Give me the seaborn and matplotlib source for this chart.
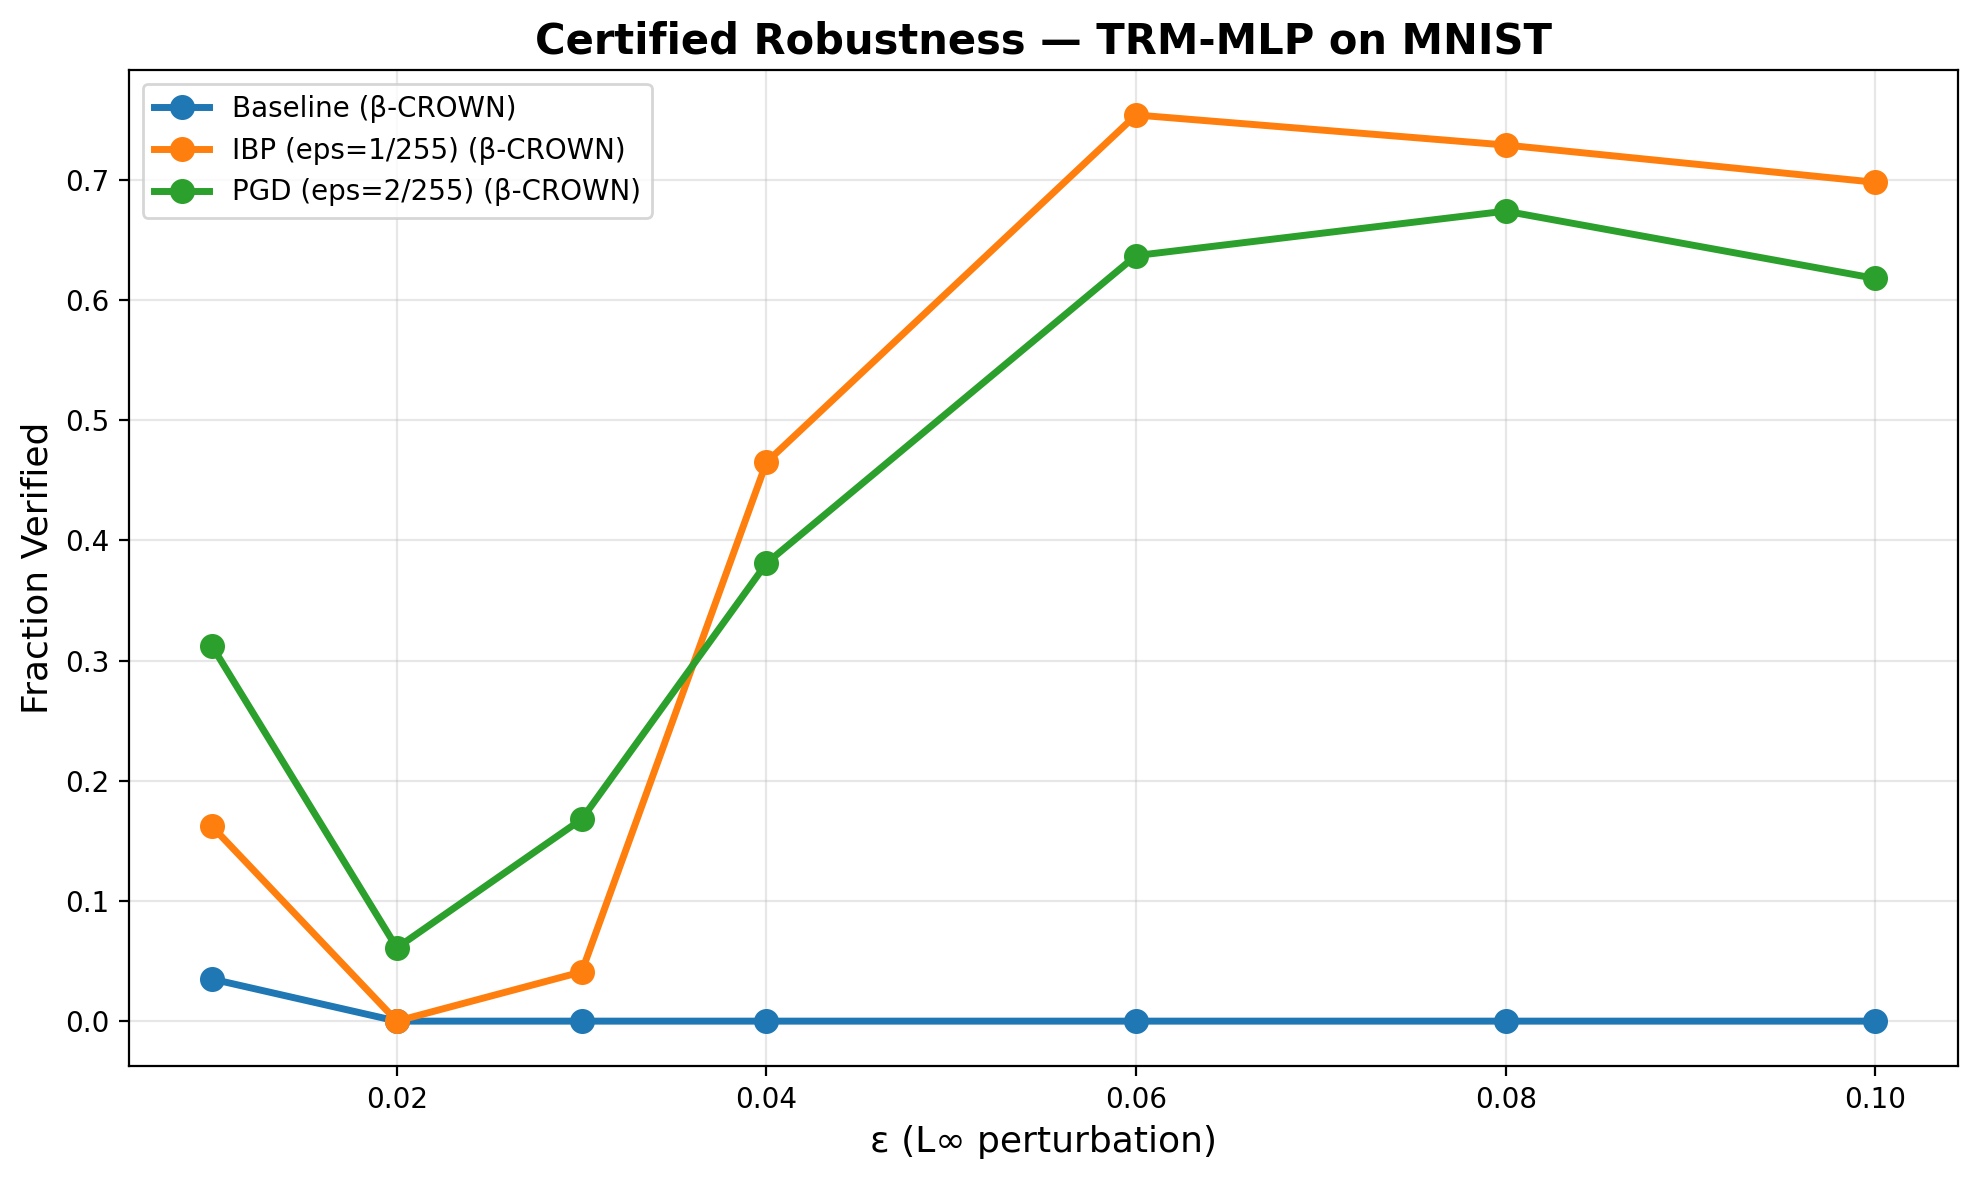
import numpy as np
import pandas as pd
import matplotlib
matplotlib.use("Agg")
import matplotlib.pyplot as plt
import seaborn as sns

# epsilon values (L-inf)
eps = [0.01, 0.02, 0.03, 0.04, 0.06, 0.08, 0.10]

# fraction verified per model
baseline = [0.035, 0.0, 0.0, 0.0, 0.0, 0.0, 0.0]
ibp = [0.162, 0.0, 0.041, 0.465, 0.754, 0.729, 0.698]
pgd = [0.312, 0.061, 0.168, 0.381, 0.637, 0.674, 0.618]

labels = ["Baseline (β-CROWN)", "IBP (eps=1/255) (β-CROWN)", "PGD (eps=2/255) (β-CROWN)"]
colors = ["#1f77b4", "#ff7f0e", "#2ca02c"]

df = pd.DataFrame({
    "eps": eps * 3,
    "frac": baseline + ibp + pgd,
    "model": [labels[0]] * 7 + [labels[1]] * 7 + [labels[2]] * 7,
})

# plain matplotlib look (black text, default ticks)
plt.rcParams["font.family"] = ["DejaVu Sans"]

fig, ax = plt.subplots(figsize=(10, 6))
for lab, col in zip(labels, colors):
    sub = df[df["model"] == lab]
    sns.lineplot(data=sub, x="eps", y="frac", ax=ax, color=col, label=lab,
                 marker="o", markersize=8, linewidth=2.5,
                 markeredgecolor=col, markeredgewidth=1)

ax.set_xlabel("ε (L∞ perturbation)", fontsize=13)
ax.set_ylabel("Fraction Verified", fontsize=13)
ax.set_title("Certified Robustness — TRM-MLP on MNIST", fontsize=15, fontweight="bold")
ax.grid(True, alpha=0.3)
ax.legend(loc="upper left", fontsize=10)

plt.tight_layout()
plt.savefig("out.png", dpi=200, bbox_inches="tight")
